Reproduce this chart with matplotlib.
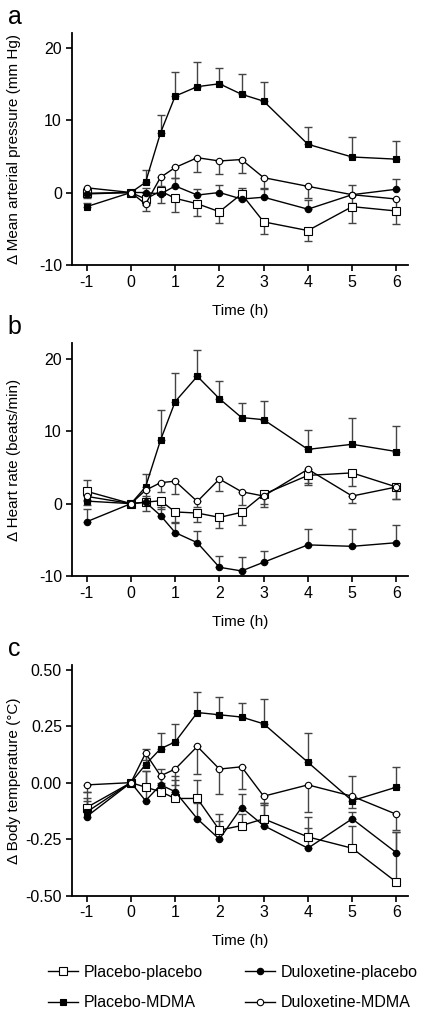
import numpy as np
import matplotlib
matplotlib.use('Agg')
from matplotlib import pyplot as plt
from matplotlib.lines import Line2D

plt.rcParams['font.family'] = ['Liberation Sans', 'DejaVu Sans']
plt.rcParams['axes.unicode_minus'] = False

# time points (h)
time = [-1, 0, 0.33, 0.67, 1, 1.5, 2, 2.5, 3, 4, 5, 6]
groups = ['Placebo-placebo', 'Placebo-MDMA', 'Duloxetine-placebo', 'Duloxetine-MDMA']

# a: mean arterial pressure
map_pp = [-0.1, 0, -0.9, 0.2, -0.8, -1.55, -2.65, -0.2, -4.05, -5.25, -1.95, -2.55]
map_pm = [-1.95, 0, 1.4, 8.25, 13.3, 14.6, 15.0, 13.55, 12.6, 6.65, 4.9, 4.6]
map_dp = [-0.2, 0, 0, -0.2, 0.9, -0.35, 0, -0.9, -0.65, -2.3, -0.3, 0.45]
map_dm = [0.65, 0, -1.6, 2.1, 3.45, 4.8, 4.35, 4.55, 2.05, 0.85, -0.3, -0.9]
map_pp_err = [0.6, 0, 0.8, 1.7, 1.85, 1.65, 1.5, 0.8, 1.65, 1.5, 2.25, 1.75]
map_pm_err = [0.5, 0, 1.75, 2.5, 3.3, 3.4, 2.2, 2.85, 2.6, 2.35, 2.75, 2.55]
map_dp_err = [0.5, 0, 0.6, 0.8, 1.1, 0.9, 1.0, 1.5, 1.1, 1.2, 1.35, 1.45]
map_dm_err = [0.5, 0, 1.0, 1.2, 1.5, 2.0, 1.75, 1.8, 1.4, 1.55, 1.2, 1.2]

# b: heart rate
hr_pp = [1.7, 0, 0.2, 0.4, -1.15, -1.3, -1.9, -1.2, 1.3, 3.9, 4.25, 2.3]
hr_pm = [0.35, 0, 2.3, 8.8, 14.1, 17.6, 14.5, 11.9, 11.6, 7.5, 8.2, 7.2]
hr_dp = [-2.5, 0, 0.2, -1.65, -4.0, -5.4, -8.8, -9.3, -8.1, -5.7, -5.9, -5.4]
hr_dm = [1.0, 0, 1.85, 2.9, 3.1, 0.3, 3.4, 1.65, 1.05, 4.75, 1.05, 2.3]
hr_pp_err = [1.2, 0, 1.2, 1.2, 1.5, 1.3, 1.5, 1.8, 1.3, 1.0, 1.8, 1.6]
hr_pm_err = [2.9, 0, 1.8, 4.1, 3.9, 3.6, 2.4, 2.0, 2.65, 2.65, 3.6, 3.5]
hr_dp_err = [1.8, 0, 0.8, 1.2, 1.4, 1.6, 1.6, 1.9, 1.5, 2.2, 2.4, 2.4]
hr_dm_err = [1.2, 0, 1.2, 1.3, 1.7, 0.8, 1.6, 1.85, 1.5, 2.2, 1.0, 1.6]

# c: body temperature
bt_pp = [-0.11, 0, -0.02, -0.04, -0.07, -0.07, -0.21, -0.19, -0.16, -0.24, -0.29, -0.44]
bt_pm = [-0.13, 0, 0.08, 0.15, 0.18, 0.31, 0.30, 0.29, 0.26, 0.09, -0.08, -0.02]
bt_dp = [-0.15, 0, -0.08, -0.01, -0.04, -0.16, -0.25, -0.11, -0.19, -0.29, -0.16, -0.31]
bt_dm = [-0.01, 0, 0.13, 0.03, 0.06, 0.16, 0.06, 0.07, -0.06, -0.01, -0.06, -0.14]
bt_pp_err = [0.07, 0, 0.07, 0.07, 0.08, 0.08, 0.04, 0.05, 0.07, 0.09, 0.10, 0.22]
bt_pm_err = [0.05, 0, 0.07, 0.07, 0.08, 0.09, 0.08, 0.06, 0.11, 0.13, 0.11, 0.09]
bt_dp_err = [0.08, 0, 0.13, 0.07, 0.07, 0.07, 0.11, 0.06, 0.10, 0.09, 0.03, 0.09]
bt_dm_err = [0.03, 0, 0.03, 0.03, 0.07, 0.12, 0.11, 0.10, 0.04, 0.12, 0.05, 0.07]

styles = {
    'Placebo-placebo': dict(marker='s', mfc='white', ms=5.2),
    'Placebo-MDMA': dict(marker='s', mfc='black', ms=5.0),
    'Duloxetine-placebo': dict(marker='o', mfc='black', ms=4.6),
    'Duloxetine-MDMA': dict(marker='o', mfc='white', ms=4.6),
}

panels = [
    ('a', 'Δ Mean arterial pressure (mm Hg)', [map_pp, map_pm, map_dp, map_dm],
     [map_pp_err, map_pm_err, map_dp_err, map_dm_err], ['down', 'up', 'up', 'down'],
     (-10, 22.0), [-10, 0, 10, 20], '%d', [0.169, 0.7384, 0.793, 0.229]),
    ('b', 'Δ Heart rate (beats/min)', [hr_pp, hr_pm, hr_dp, hr_dm],
     [hr_pp_err, hr_pm_err, hr_dp_err, hr_dm_err], ['down', 'up', 'up', 'down'],
     (-10, 22.2), [-10, 0, 10, 20], '%d', [0.169, 0.4314, 0.793, 0.230]),
    ('c', 'Δ Body temperature (°C)', [bt_pp, bt_pm, bt_dp, bt_dm],
     [bt_pp_err, bt_pm_err, bt_dp_err, bt_dm_err], ['up', 'up', 'up', 'down'],
     (-0.5, 0.52), [-0.5, -0.25, 0, 0.25, 0.5], '%.2f', [0.169, 0.1158, 0.793, 0.2277]),
]

fig = plt.figure(figsize=(4.24, 10.13), dpi=100)

for letter, ylab, series, errs, dirs, ylim, yticks, fmt, rect in panels:
    ax = fig.add_axes(rect)
    for name, y, e, d in zip(groups, series, errs, dirs):
        e = np.array(e)
        zero = np.zeros_like(e)
        yerr = [e, zero] if d == 'down' else [zero, e]
        ax.errorbar(time, y, yerr=yerr, fmt='none', ecolor='#444444',
                    elinewidth=1.0, capsize=2.6, capthick=1.0, zorder=2)
    for name, y in zip(groups, series):
        st = styles[name]
        ax.plot(time, y, color='black', lw=1.0, marker=st['marker'],
                mfc=st['mfc'], mec='black', mew=0.8, ms=st['ms'], zorder=3)
    ax.set_xlim(-1.34, 6.26)
    ax.set_ylim(*ylim)
    ax.set_xticks([-1, 0, 1, 2, 3, 4, 5, 6])
    ax.set_yticks(yticks)
    ax.set_yticklabels([fmt % v for v in yticks])
    for s in ['top', 'right']:
        ax.spines[s].set_visible(False)
    for s in ['left', 'bottom']:
        ax.spines[s].set_linewidth(1.3)
    ax.tick_params(width=1.2, length=4, labelsize=11.5, pad=3)
    ax.set_xlabel('Time (h)', fontsize=11, labelpad=10)
    ax.set_ylabel(ylab, fontsize=11, va='center')
    ax.yaxis.set_label_coords(-0.172, 0.5)
    ax.text(-0.19, 1.12, letter, transform=ax.transAxes, fontsize=18,
            ha='left', va='top')

handles = []
for name in groups:
    st = styles[name]
    handles.append(Line2D([], [], color='black', lw=1.0, marker=st['marker'],
                          mfc=st['mfc'], mec='black', mew=0.8, ms=st['ms']))
fig.legend(handles, groups, ncol=2, loc='upper left',
           bbox_to_anchor=(48 / 424, 1 - 965 / 1013), frameon=False, fontsize=11.5,
           handlelength=1.9, handletextpad=0.35, columnspacing=2.6,
           labelspacing=0.95, borderpad=0, borderaxespad=0)

plt.savefig('out.png', dpi=100)
